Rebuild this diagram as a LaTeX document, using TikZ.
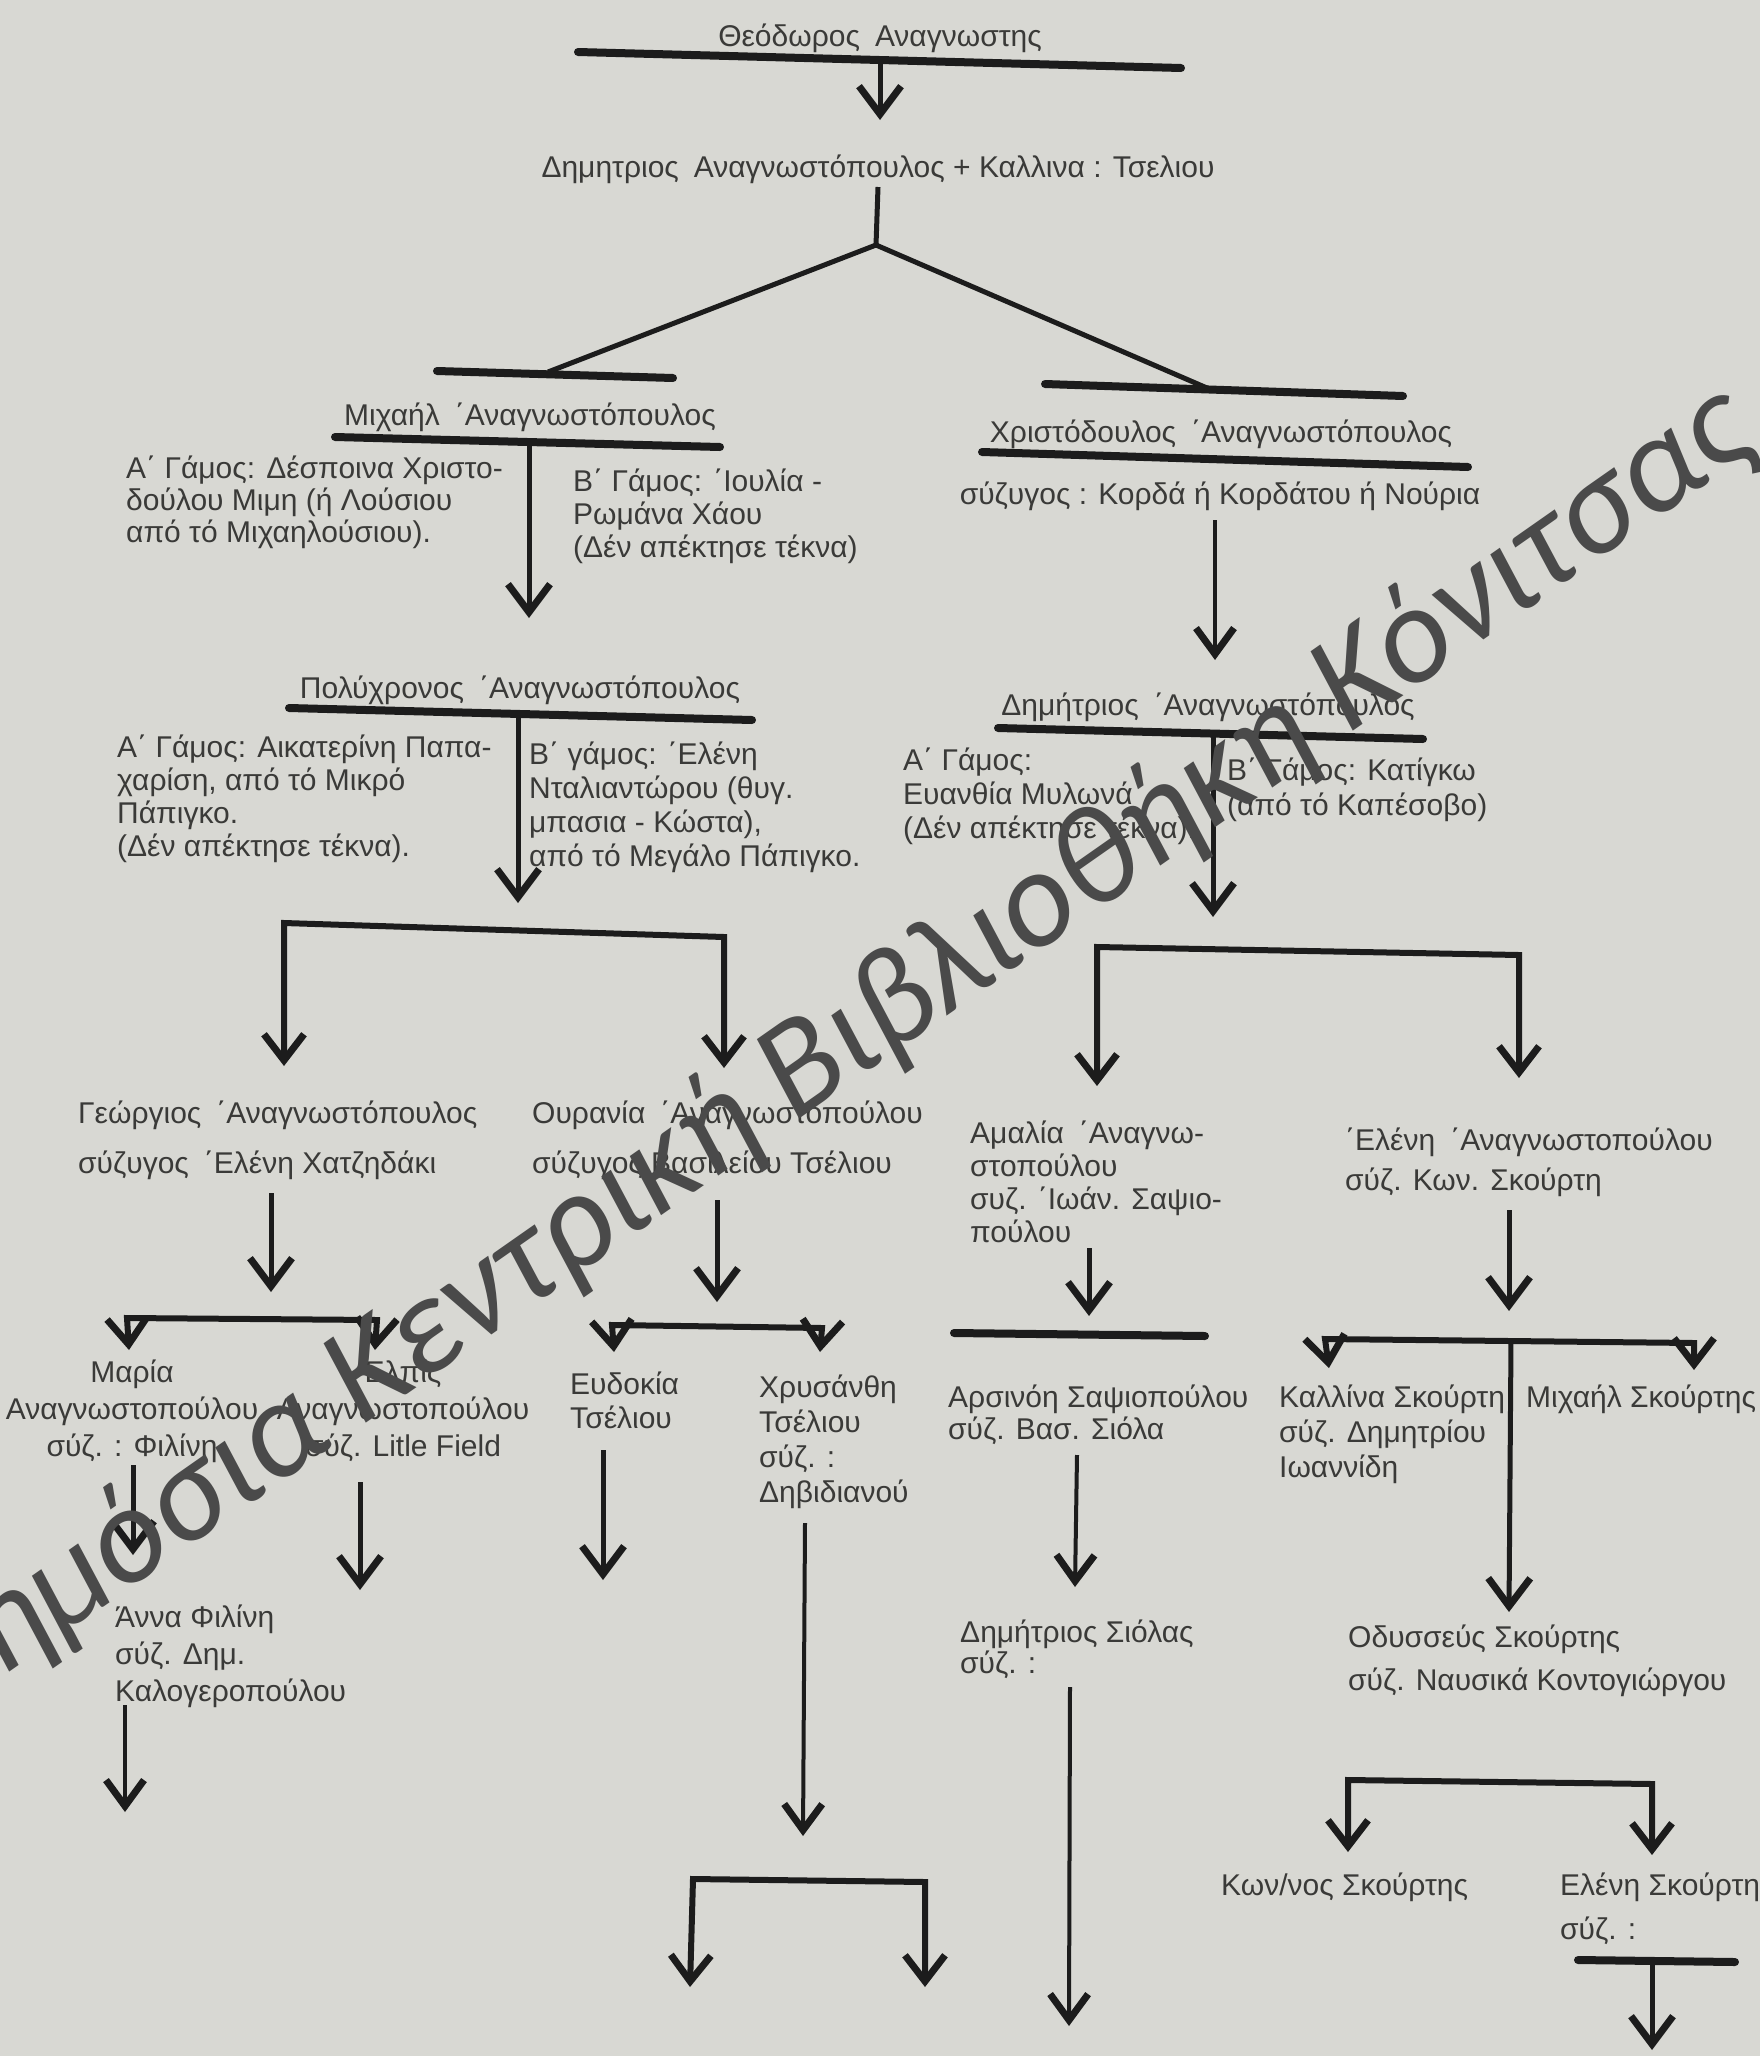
\documentclass[tikz,border=0pt]{standalone}
\usepackage{fontspec}
\setmainfont{Liberation Sans}
\newfontfamily\wmfont{Carlito}
\usetikzlibrary{arrows.meta}
\definecolor{paper}{RGB}{216,216,211}
\definecolor{ink}{RGB}{28,28,28}
\definecolor{txt}{RGB}{58,58,56}
\definecolor{wm}{RGB}{74,74,74}
\newcommand\blk[2]{\fontsize{30}{#1}\selectfont\begin{tabular}[t]{@{}l@{}}#2\end{tabular}}
\newcommand\blkc[2]{\fontsize{30}{#1}\selectfont\begin{tabular}[t]{@{}c@{}}#2\end{tabular}}
\tikzset{
  bar/.style={draw=ink, line width=8pt, line cap=round},
  ln/.style={draw=ink, line width=5pt},
  arr/.style={draw=ink, line width=5pt, -{Straight Barb[length=28pt,width=42pt,line width=7pt]}},
  tarr/.style={draw=ink, line width=4pt, -{Straight Barb[length=26pt,width=38pt,line width=7pt]}},
  brk/.style={draw=ink, line width=6pt, line join=miter,
    {Straight Barb[length=26pt,width=40pt,line width=7pt]}-{Straight Barb[length=26pt,width=40pt,line width=7pt]}},
  lbl/.style={inner sep=0pt, text=txt, font=\fontsize{30}{36}\selectfont},
  wmark/.style={inner sep=0pt, text=wm, font={\wmfont\itshape\fontsize{139}{150}\selectfont}},
}
\begin{document}
\begin{tikzpicture}[x=1pt,y=-1pt]
\useasboundingbox (0,0) rectangle (1760,2056);
\fill[paper] (0,0) rectangle (1760,2056);

% ---------- texts ----------
\node[lbl,anchor=base] (theo) at (880,46) {Θεόδωρος\enspace Αναγνωστης};
\node[lbl,anchor=base] (dim0) at (878,177) {Δημητριος\enspace Αναγνωστόπουλος + Καλλινα : Τσελιου};
\node[lbl,anchor=base] (mich) at (530,425) {Μιχαήλ\enspace ΄Αναγνωστόπουλος};
\node[lbl,anchor=base west] (michA) at (126,478) {\blk{32}{Α΄ Γάμος: Δέσποινα Χριστο-\\δούλου Μιμη (ή Λούσιου\\από τό Μιχαηλούσιου).}};
\node[lbl,anchor=base west] (michB) at (573,491) {\blk{33}{Β΄ Γάμος: ΄Ιουλία -\\Ρωμάνα Χάου\\(Δέν απέκτησε τέκνα)}};
\node[lbl,anchor=base] (chris) at (1221,442) {Χριστόδουλος\enspace ΄Αναγνωστόπουλος};
\node[lbl,anchor=base] (chrisW) at (1220,504) {σύζυγος : Κορδά ή Κορδάτου ή Νούρια};
\node[lbl,anchor=base] (poly) at (520,698) {Πολύχρονος\enspace ΄Αναγνωστόπουλος};
\node[lbl,anchor=base west] (polyA) at (117,757) {\blk{33}{Α΄ Γάμος: Αικατερίνη Παπα-\\χαρίση, από τό Μικρό\\Πάπιγκο.\\(Δέν απέκτησε τέκνα).}};
\node[lbl,anchor=base west] (polyB) at (529,764) {\blk{34}{Β΄ γάμος: ΄Ελένη\\Νταλιαντώρου (θυγ.\\μπασια - Κώστα),\\από τό Μεγάλο Πάπιγκο.}};
\node[lbl,anchor=base] (dim1) at (1208,715) {Δημήτριος\enspace ΄Αναγνωστόπουλος};
\node[lbl,anchor=base west] (dimA) at (903,770) {\blk{34}{Α΄ Γάμος:\\Ευανθία Μυλωνά\\(Δέν απέκτησε τέκνα).}};
\node[lbl,anchor=base west] (dimB) at (1227,780) {\blk{35}{Β΄ Γάμος: Κατίγκω\\(από τό Καπέσοβο)}};
\node[lbl,anchor=base west] (geo) at (78,1123) {\blk{50}{Γεώργιος\enspace ΄Αναγνωστόπουλος\\σύζυγος\enspace ΄Ελένη Χατζηδάκι}};
\node[lbl,anchor=base west] (our) at (532,1123) {\blk{50}{Ουρανία\enspace ΄Αναγνωστοπούλου\\σύζυγος Βασιλείου Τσέλιου}};
\node[lbl,anchor=base west] (ama) at (970,1143) {\blk{33}{Αμαλία\enspace ΄Αναγνω-\\στοπούλου\\συζ. ΄Ιωάν. Σαψιο-\\πούλου}};
\node[lbl,anchor=base west] (ele) at (1345,1150) {\blk{40}{΄Ελένη\enspace ΄Αναγνωστοπούλου\\σύζ. Κων. Σκούρτη}};
\node[lbl,anchor=base] (mar) at (132,1382) {\blkc{37}{Μαρία\\Αναγνωστοπούλου\\σύζ. : Φιλίνη}};
\node[lbl,anchor=base] (elp) at (403,1382) {\blkc{37}{Ελπίς\\Αναγνωστοπούλου\\σύζ. Litle Field}};
\node[lbl,anchor=base west] (eud) at (570,1394) {\blk{34}{Ευδοκία\\Τσέλιου}};
\node[lbl,anchor=base west] (chry) at (759,1397) {\blk{35}{Χρυσάνθη\\Τσέλιου\\σύζ. :\\Δηβιδιανού}};
\node[lbl,anchor=base west] (ars) at (948,1407) {\blk{32}{Αρσινόη Σαψιοπούλου\\σύζ. Βασ. Σιόλα}};
\node[lbl,anchor=base west] (kal) at (1279,1407) {\blk{35}{Καλλίνα Σκούρτη\\σύζ. Δημητρίου\\Ιωαννίδη}};
\node[lbl,anchor=base west] (mis) at (1526,1407) {Μιχαήλ Σκούρτης};
\node[lbl,anchor=base west] (ann) at (115,1627) {\blk{37}{Άννα Φιλίνη\\σύζ. Δημ.\\Καλογεροπούλου}};
\node[lbl,anchor=base west] (sio) at (960,1642) {\blk{30}{Δημήτριος Σιόλας\\σύζ. :}};
\node[lbl,anchor=base west] (ody) at (1348,1647) {\blk{43}{Οδυσσεύς Σκούρτης\\σύζ. Ναυσικά Κοντογιώργου}};
\node[lbl,anchor=base west] (kon) at (1221,1895) {Κων/νος Σκούρτης};
\node[lbl,anchor=base west] (esk) at (1560,1895) {\blk{44}{Ελένη Σκούρτη\\σύζ. :}};

% ---------- coordinates ----------
\coordinate (t1) at (578,52);   \coordinate (t2) at (1181,68);
\coordinate (a1s) at (880,62);  \coordinate (a1e) at (880,120);
\coordinate (f0) at (878,187);  \coordinate (f1) at (876,245);
\coordinate (fl) at (548,372);  \coordinate (fr) at (1207,388);
\coordinate (m0l) at (437,371); \coordinate (m0r) at (673,378);
\coordinate (c0l) at (1045,384);\coordinate (c0r) at (1403,396);
\coordinate (m1l) at (335,437); \coordinate (m1r) at (720,447);
\coordinate (a2s) at (529,445); \coordinate (a2e) at (529,618);
\coordinate (c1l) at (982,452); \coordinate (c1r) at (1468,467);
\coordinate (a3s) at (1215,520);\coordinate (a3e) at (1215,660);
\coordinate (p1l) at (289,708); \coordinate (p1r) at (752,720);
\coordinate (a4s) at (518,712); \coordinate (a4e) at (518,903);
\coordinate (d1l) at (998,728); \coordinate (d1r) at (1423,739);
\coordinate (a5s) at (1213,735);\coordinate (a5e) at (1213,917);
% Polychronos bracket
\coordinate (b1a) at (284,1066); \coordinate (b1b) at (284,923);
\coordinate (b1c) at (724,937);  \coordinate (b1d) at (724,1068);
% Dimitrios bracket
\coordinate (b2a) at (1097,1086); \coordinate (b2b) at (1097,947);
\coordinate (b2c) at (1519,955);  \coordinate (b2d) at (1519,1078);
\coordinate (a6s) at (271,1193); \coordinate (a6e) at (271,1292);
\coordinate (a7s) at (717,1200); \coordinate (a7e) at (717,1302);
\coordinate (a8s) at (1089,1248);\coordinate (a8e) at (1089,1316);
\coordinate (s1l) at (954,1333); \coordinate (s1r) at (1205,1336);
\coordinate (a9s) at (1509,1210);\coordinate (a9e) at (1509,1311);
% Georgios kids
\coordinate (b3a) at (129,1350); \coordinate (b3b) at (127,1318);
\coordinate (b3c) at (377,1320); \coordinate (b3d) at (375,1350);
% Ourania kids
\coordinate (b4a) at (614,1352); \coordinate (b4b) at (612,1325);
\coordinate (b4c) at (822,1328); \coordinate (b4d) at (820,1352);
% Eleni kids
\coordinate (b5a) at (1329,1368); \coordinate (b5b) at (1325,1339);
\coordinate (b5c) at (1694,1343); \coordinate (b5d) at (1694,1370);
\coordinate (b5m) at (1511,1341); \coordinate (b5e) at (1509,1612);
\coordinate (a10s) at (133,1465); \coordinate (a10e) at (133,1555);
\coordinate (a11s) at (360,1482); \coordinate (a11e) at (360,1590);
\coordinate (a12s) at (603,1450); \coordinate (a12e) at (603,1580);
\coordinate (a13s) at (805,1523); \coordinate (a13e) at (803,1836);
\coordinate (a14s) at (1077,1455);\coordinate (a14e) at (1075,1587);
\coordinate (a15s) at (125,1705); \coordinate (a15e) at (125,1812);
\coordinate (a16s) at (1070,1687);\coordinate (a16e) at (1069,2026);
% Chrysanthi kids
\coordinate (b6a) at (690,1987); \coordinate (b6b) at (693,1879);
\coordinate (b6c) at (925,1882); \coordinate (b6d) at (925,1987);
% Odysseus kids
\coordinate (b7a) at (1348,1852); \coordinate (b7b) at (1348,1780);
\coordinate (b7c) at (1652,1784); \coordinate (b7d) at (1652,1855);
\coordinate (e1l) at (1578,1960); \coordinate (e1r) at (1735,1962);
\coordinate (a17s) at (1652,1962); \coordinate (a17e) at (1652,2050);

% ---------- lines ----------
\draw[bar] (t1) -- (t2);
\draw[arr] (a1s) -- (a1e);
\draw[ln] (f0) -- (f1);
\draw[ln,line join=miter] (fl) -- (f1) -- (fr);
\draw[bar] (m0l) -- (m0r);
\draw[bar] (c0l) -- (c0r);
\draw[bar] (m1l) -- (m1r);
\draw[arr] (a2s) -- (a2e);
\draw[bar] (c1l) -- (c1r);
\draw[tarr] (a3s) -- (a3e);
\draw[bar] (p1l) -- (p1r);
\draw[arr] (a4s) -- (a4e);
\draw[bar] (d1l) -- (d1r);
\draw[arr] (a5s) -- (a5e);
\draw[brk] (b1a) -- (b1b) -- (b1c) -- (b1d);
\draw[brk] (b2a) -- (b2b) -- (b2c) -- (b2d);
\draw[arr] (a6s) -- (a6e);
\draw[arr] (a7s) -- (a7e);
\draw[arr] (a8s) -- (a8e);
\draw[bar] (s1l) -- (s1r);
\draw[arr] (a9s) -- (a9e);
\draw[brk] (b3a) -- (b3b) -- (b3c) -- (b3d);
\draw[brk] (b4a) -- (b4b) -- (b4c) -- (b4d);
\draw[brk] (b5a) -- (b5b) -- (b5c) -- (b5d);
\draw[arr] (b5m) -- (b5e);
\draw[arr] (a10s) -- (a10e);
\draw[arr] (a11s) -- (a11e);
\draw[arr] (a12s) -- (a12e);
\draw[tarr] (a13s) -- (a13e);
\draw[tarr] (a14s) -- (a14e);
\draw[tarr] (a15s) -- (a15e);
\draw[tarr] (a16s) -- (a16e);
\draw[brk] (b6a) -- (b6b) -- (b6c) -- (b6d);
\draw[brk] (b7a) -- (b7b) -- (b7c) -- (b7d);
\draw[bar] (e1l) -- (e1r);
\draw[arr] (a17s) -- (a17e);

% ---------- watermark ----------
\node[wmark,rotate=35,anchor=base west] (wmk) at (-64,1724) {Δημόσια Κεντρική Βιβλιοθήκη Κόνιτσας};
\end{tikzpicture}
\end{document}
